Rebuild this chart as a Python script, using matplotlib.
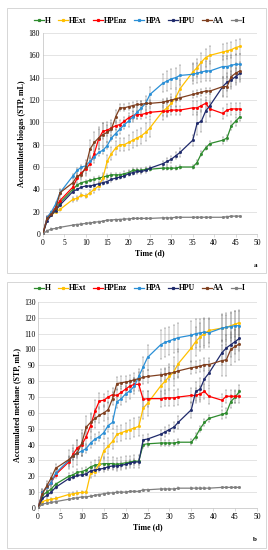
import matplotlib
matplotlib.use('Agg')
import matplotlib.pyplot as plt
from matplotlib.patches import Rectangle
from matplotlib.lines import Line2D

plt.rcParams['font.family'] = ['Liberation Serif', 'DejaVu Serif']

# Sampling days
days = [0, 1, 2, 3, 4, 7, 8, 9, 10, 11, 12, 13, 14, 15, 16, 17, 18, 19, 20, 21,
        22, 23, 24, 25, 28, 29, 30, 31, 32, 35, 36, 37, 38, 39, 42, 43, 44, 45, 46]

series_names = ['H', 'HExt', 'HPEnz', 'HPA', 'HPU', 'AA', 'I']
series_colors = ['#2E8B2E', '#FFC000', '#FF0000', '#2A8FD6', '#1F2A6B', '#7F3F1F', '#7F7F7F']

# Panel a: accumulated biogas
biogas_H = [0, 14, 18, 22, 28, 40, 44, 46, 47, 48, 49, 50, 51, 52, 53, 53, 53, 54, 55, 57,
            57, 57, 58, 58, 59, 59, 59, 59, 60, 60, 64, 72, 77, 81, 84, 86, 97, 101, 105]
biogas_HExt = [0, 14, 17, 20, 22, 31, 32, 35, 34, 37, 40, 43, 50, 65, 72, 77, 80, 80, 82, 84,
               86, 88, 91, 95, 110, 113, 117, 122, 130, 145, 149, 154, 158, 160, 163, 164, 165, 167, 168]
biogas_HPEnz = [0, 15, 19, 24, 30, 42, 50, 55, 58, 63, 72, 85, 92, 93, 95, 97, 98, 101, 104, 106,
                107, 107, 108, 109, 110, 110, 111, 111, 111, 113, 113, 115, 117, 112, 108, 111, 112, 112, 112]
biogas_HPA = [0, 15, 20, 27, 37, 52, 57, 60, 61, 65, 69, 73, 75, 79, 86, 90, 94, 98, 101, 105,
              109, 113, 117, 125, 135, 137, 139, 140, 142, 143, 144, 145, 146, 146, 150, 150, 151, 152, 152]
biogas_HPU = [0, 12, 17, 21, 26, 38, 40, 42, 43, 43, 44, 45, 46, 47, 49, 50, 51, 52, 54, 55,
              56, 56, 57, 59, 63, 65, 67, 70, 73, 84, 99, 101, 110, 115, 132, 136, 138, 141, 144]
biogas_AA = [0, 14, 18, 23, 37, 46, 52, 53, 60, 76, 82, 86, 89, 91, 94, 105, 113, 113, 114, 115,
             116, 116, 117, 117, 118, 119, 120, 121, 122, 125, 126, 127, 128, 128, 132, 132, 141, 144, 146]
biogas_I = [0, 3, 4.5, 5, 6, 8, 8.5, 9, 9.5, 10, 10.5, 11, 11.5, 12.5, 12.5, 13, 13, 13.5, 13.5, 14,
            14, 14, 14, 14, 14.5, 14.5, 14.5, 15, 15, 15, 15, 15, 15, 15, 15, 15.5, 16, 16, 16]

biogas_err_H = [0, 1, 1, 1, 1, 1, 1, 1, 1, 1, 2, 2, 2, 2, 2, 2, 2, 2, 2, 2,
                2, 2, 2, 2, 2, 2, 2, 2, 2, 2, 2, 2, 2, 2, 3, 3, 4, 4, 4]
biogas_err_HExt = [0, 1, 1, 1, 1, 2, 2, 2, 2, 2, 3, 4, 5, 6, 6, 6, 6, 6, 7, 7,
                   7, 7, 8, 8, 8, 8, 8, 8, 8, 8, 8, 8, 8, 8, 7, 7, 7, 7, 7]
biogas_err_HPEnz = [0, 1, 1, 2, 2, 3, 4, 5, 6, 7, 8, 9, 7, 5, 4, 4, 4, 4, 4, 4,
                    4, 4, 4, 4, 4, 4, 4, 4, 4, 6, 6, 6, 6, 6, 5, 5, 5, 5, 5]
biogas_err_HPA = [0, 1, 1, 2, 2, 2, 2, 2, 2, 3, 3, 3, 3, 3, 3, 4, 4, 4, 5, 5,
                  6, 6, 7, 7, 8, 9, 9, 9, 9, 9, 9, 9, 9, 9, 9, 9, 9, 9, 9]
biogas_err_HPU = [0, 1, 1, 1, 1, 1, 1, 1, 1, 1, 2, 2, 2, 2, 2, 2, 2, 2, 2, 2,
                  2, 2, 2, 2, 2, 3, 3, 3, 4, 5, 10, 10, 10, 10, 8, 8, 8, 8, 8]
biogas_err_AA = [0, 1, 2, 2, 3, 4, 4, 5, 6, 8, 9, 10, 10, 9, 8, 6, 3, 3, 3, 3,
                 3, 3, 3, 3, 3, 3, 3, 3, 3, 3, 3, 3, 3, 3, 9, 9, 9, 9, 8]
biogas_err_I = [0.5] * len(days)

# Panel b: accumulated methane
methane_H = [0, 8, 10, 12, 15, 20, 21, 22.5, 23, 24, 26, 27, 27.5, 28, 28, 28, 27.5, 28, 28.5, 29,
             29.5, 29.5, 40, 40.5, 41, 41, 41, 41, 41.5, 41.5, 45, 50, 54, 56.5, 59, 60, 67, 70, 73.5]
methane_HExt = [0, 4, 5, 5.5, 6, 8.5, 9, 9.5, 9.8, 10, 22, 23, 28, 36, 39, 42, 46.5, 47.5, 48.5, 49.5,
                50.5, 51.5, 63, 66, 77, 80, 83, 86, 91, 101, 105, 108, 110, 112, 113.5, 114, 115, 116, 117]
methane_HPEnz = [0, 10, 13, 16, 21, 29, 34, 38, 40, 45, 52, 61, 67.5, 68, 70, 71.5, 71, 73, 75, 77,
                 78, 78, 68.5, 69, 69, 69.5, 69.5, 69.5, 70, 71, 71, 72, 73.5, 70.5, 68, 70.5, 70.5, 70.5, 70.5]
methane_HPA = [0, 10, 13, 16, 22, 30, 33, 34.5, 36, 37.5, 41, 43.5, 45, 47.5, 52, 54, 67, 69, 72, 74,
               77, 83, 89, 95, 103, 104.5, 105.5, 106.5, 107.5, 109, 110, 110.5, 111, 110.5, 113.5, 114, 114.5, 115, 115]
methane_HPU = [0, 6, 8, 10, 13, 18.5, 19.5, 20.5, 21, 21.5, 23.5, 24, 24.5, 25, 26, 26.5, 26.5, 27, 27.5, 28.5,
               29, 29, 43, 43.5, 46.5, 48, 49.5, 51, 54, 62, 73.5, 75, 81.5, 85, 98, 101, 103, 105, 107]
methane_AA = [0, 9, 14, 19, 25, 30.5, 33, 35, 41, 51, 54, 56.5, 58.5, 60, 62, 69, 78.5, 79, 79.5, 80,
              81, 81.5, 82.5, 83, 84, 84.5, 85, 85.5, 86.5, 88.5, 89, 89.5, 90.5, 90.5, 93, 93.5, 100, 102, 103.5]
methane_I = [0, 2.5, 3, 3.5, 4, 5.5, 6, 6.5, 7, 7, 7.5, 8, 8.5, 9, 9.5, 9.5, 10, 10, 10, 10.5,
             10.5, 10.5, 11.5, 11.5, 12, 12, 12, 12, 12.5, 12.5, 12.5, 12.5, 12.5, 12.5, 13, 13, 13, 13, 13]

methane_err_H = [0, 1, 1, 1, 1, 2, 2, 2, 2, 2, 3, 3, 3, 4, 4, 4, 4, 4, 4, 4,
                 4, 4, 2, 2, 2, 2, 2, 2, 2, 2, 2, 2, 2, 2, 3, 3, 4, 4, 4]
methane_err_HExt = [0, 1, 1, 1, 1, 1, 1, 1, 1, 1, 3, 3, 4, 5, 5, 5, 5, 5, 5, 6,
                    6, 6, 7, 8, 8, 8, 8, 9, 9, 9, 9, 9, 9, 8, 8, 8, 8, 8, 8]
methane_err_HPEnz = [0, 2, 2, 2, 2, 3, 4, 5, 7, 7, 7, 7, 5, 4, 4, 4, 4, 4, 4, 4,
                     4, 4, 5, 5, 5, 5, 5, 5, 5, 5, 5, 5, 5, 5, 4, 4, 4, 4, 4]
methane_err_HPA = [0, 2, 2, 2, 2, 3, 3, 3, 3, 3, 3, 3, 3, 4, 4, 4, 4, 4, 5, 5,
                   5, 5, 6, 8, 9, 9, 9, 9, 9, 9, 9, 9, 9, 9, 9, 9, 9, 9, 9]
methane_err_HPU = [0, 1, 1, 1, 1, 1, 1, 1, 1, 1, 2, 2, 2, 2, 2, 2, 2, 2, 2, 2,
                   2, 2, 3, 3, 3, 3, 3, 3, 4, 5, 6, 7, 8, 8, 8, 8, 8, 8, 8]
methane_err_AA = [0, 2, 3, 3, 3, 6, 7, 8, 8, 7, 6, 6, 5, 5, 5, 4, 4, 4, 4, 4,
                  4, 4, 4, 4, 4, 4, 4, 4, 4, 4, 4, 4, 4, 4, 10, 10, 10, 10, 10]
methane_err_I = [0.5] * len(days)

biogas = [biogas_H, biogas_HExt, biogas_HPEnz, biogas_HPA, biogas_HPU, biogas_AA, biogas_I]
biogas_err = [biogas_err_H, biogas_err_HExt, biogas_err_HPEnz, biogas_err_HPA,
              biogas_err_HPU, biogas_err_AA, biogas_err_I]
methane = [methane_H, methane_HExt, methane_HPEnz, methane_HPA, methane_HPU, methane_AA, methane_I]
methane_err = [methane_err_H, methane_err_HExt, methane_err_HPEnz, methane_err_HPA,
               methane_err_HPU, methane_err_AA, methane_err_I]

fig = plt.figure(figsize=(2.68, 5.5), dpi=100)

# light frames around each panel
fig.patches.append(Rectangle((0.026, 0.504), 0.966, 0.482, transform=fig.transFigure,
                             fill=False, edgecolor='#d0d0d0', lw=0.6))
fig.patches.append(Rectangle((0.026, 0.004), 0.966, 0.484, transform=fig.transFigure,
                             fill=False, edgecolor='#d0d0d0', lw=0.6))


def draw_panel(ax, data, errs, ymax, ystep, ylabel, letter, legend_y):
    for name, color, y, e in zip(series_names, series_colors, data, errs):
        ax.errorbar(days, y, yerr=e, color=color, lw=0.9, marker='s', markersize=1.0,
                    ecolor='#666666', elinewidth=0.3, capsize=0.8, capthick=0.3,
                    label=name, zorder=3)
    ax.set_xlim(0, 50)
    ax.set_ylim(0, ymax)
    ax.set_xticks(range(0, 51, 5))
    ax.set_yticks(range(0, ymax + 1, ystep))
    ax.yaxis.grid(True, color='#d9d9d9', lw=0.5)
    ax.set_axisbelow(True)
    for s in ['top', 'right']:
        ax.spines[s].set_visible(False)
    ax.spines['left'].set_color('#bfbfbf')
    ax.spines['bottom'].set_color('#bfbfbf')
    ax.spines['left'].set_linewidth(0.5)
    ax.spines['bottom'].set_linewidth(0.5)
    ax.tick_params(axis='y', length=0, labelsize=5.5, pad=2)
    ax.tick_params(axis='x', length=2, width=0.4, color='#bfbfbf', labelsize=5.5, pad=1.5)
    ax.set_xlabel('Time (d)', fontsize=5.8, fontweight='bold', labelpad=2)
    ax.set_ylabel(ylabel, fontsize=5.8, fontweight='bold', labelpad=2)
    handles = [Line2D([], [], color=c, lw=0.9, marker='s', markersize=1.3) for c in series_colors]
    fig.legend(handles=handles, labels=series_names, loc='center', ncol=7,
               bbox_to_anchor=(0.52, legend_y), frameon=False,
               prop={'size': 5.5, 'weight': 'bold'}, handlelength=1.3,
               handletextpad=0.15, columnspacing=0.9, borderaxespad=0)
    fig.text(0.945, ax.get_position().y0 - 0.06, letter, fontsize=5, fontweight='bold')


ax_a = fig.add_axes([0.160, 0.5745, 0.799, 0.3655])
draw_panel(ax_a, biogas, biogas_err, 180, 20, 'Accumulated biogas (STP, mL)', 'a', 0.962)

ax_b = fig.add_axes([0.142, 0.0764, 0.817, 0.3746])
draw_panel(ax_b, methane, methane_err, 130, 10, 'Accumulated methane (STP, mL)', 'b', 0.476)

fig.savefig('out.png', dpi=100)
